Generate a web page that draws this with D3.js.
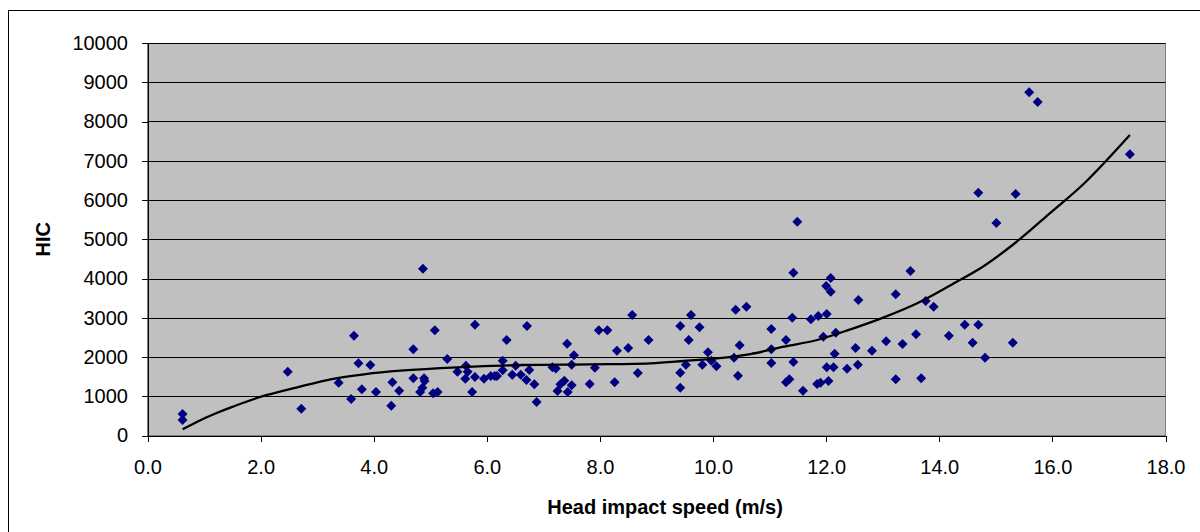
<!DOCTYPE html>
<html>
<head>
<meta charset="utf-8">
<script src="https://d3js.org/d3.v7.min.js"></script>
<style>
  body { margin: 0; background: #fff; }
  svg { display: block; }
  text { font-family: "Liberation Sans", Arial, sans-serif; }
</style>
</head>
<body>
<div id="chart"></div>
<script>
// head impact speed (m/s) vs HIC
var speed = [0.62, 0.62, 2.48, 2.72, 3.38, 3.65, 3.73, 3.94, 3.60, 3.79,
  4.04, 4.31, 4.33, 4.45, 4.70, 4.70, 5.08, 4.89, 4.90, 4.86,
  4.82, 5.05, 5.13, 5.30, 5.48, 4.87, 5.63, 5.66, 5.62, 5.79,
  5.79, 5.74, 5.95, 6.07, 6.14, 6.18, 6.28, 6.28, 6.35, 6.45,
  6.51, 6.60, 6.70, 6.71, 6.75, 6.84, 6.88, 7.16, 7.22, 7.25,
  7.30, 7.37, 7.42, 7.43, 7.50, 7.54, 7.50, 7.82, 7.91, 7.98,
  8.13, 8.26, 8.30, 8.50, 8.57, 8.67, 8.86, 9.42, 9.61, 9.57,
  9.76, 9.42, 9.42, 9.52, 9.81, 9.91, 9.97, 10.06, 10.40, 10.59,
  10.37, 10.47, 10.44, 11.03, 11.03, 11.03, 11.29, 11.42, 11.29, 11.35,
  11.40, 11.59, 11.73, 11.86, 12.01, 12.00, 12.08, 11.95, 12.17, 12.15,
  12.01, 12.13, 12.37, 12.56, 12.52, 12.57, 11.84, 11.90, 12.04, 12.81,
  13.06, 13.23, 13.23, 13.35, 13.59, 13.68, 11.49, 11.42, 12.08, 13.49,
  13.76, 13.90, 14.17, 14.45, 14.69, 14.59, 14.81, 15.30, 14.69, 15.35,
  15.01, 17.37, 15.59, 15.74]
var hic = [548, 395, 1626, 683, 1345, 2543, 1839, 1796, 930, 1177,
  1108, 760, 1355, 1141, 2196, 1457, 2683, 1457, 1389, 1218,
  1108, 1075, 1108, 1949, 1626, 4250, 1779, 1626, 1448, 2824,
  1490, 1108, 1448, 1516, 1516, 1516, 1906, 1660, 2433, 1550,
  1779, 1550, 1414, 2790, 1669, 1304, 853, 1737, 1710, 1134,
  1304, 1397, 2340, 1108, 1279, 2043, 1805, 1312, 1728, 2680,
  2680, 1355, 2161, 2229, 3070, 1592, 2433, 2790, 3070, 2433,
  2756, 1600, 1218, 1805, 1805, 2120, 1906, 1763, 3205, 3282,
  1982, 2298, 1524, 2713, 2196, 1847, 2433, 1873, 1355, 1432,
  3002, 1141, 2960, 3045, 3095, 3809, 3664, 2518, 2620, 2085,
  1737, 1737, 1703, 1805, 2229, 3452, 1312, 1346, 1389, 2161,
  2399, 3597, 1432, 2331, 2578, 1457, 5447, 4148, 4013, 4191,
  3427, 3282, 2543, 2824, 2824, 2365, 1982, 2365, 6186, 6153,
  5414, 7164, 8744, 8497]

// trend line (polynomial, as drawn by the spreadsheet)
var trendX = [0.62, 0.88, 1.20, 1.50, 2.01, 2.65, 3.24, 3.83, 4.47, 5.48,
  6.65, 7.83, 8.89, 9.48, 10.07, 10.66, 11.25, 11.84, 12.43, 13.02,
  13.61, 14.20, 14.79, 15.38, 15.97, 16.56, 17.37]
var trendY = [158, 352, 560, 730, 989, 1228, 1432, 1559, 1651, 1737,
  1796, 1814, 1839, 1898, 1967, 2076, 2262, 2433, 2705, 3011,
  3370, 3830, 4320, 4950, 5680, 6420, 7656]

var xTicks = [0, 2, 4, 6, 8, 10, 12, 14, 16, 18]
var yTicks = [0, 1000, 2000, 3000, 4000, 5000, 6000, 7000, 8000, 9000, 10000]

var xTitle = "Head impact speed (m/s)"
var yTitle = "HIC"

var W = 1200, H = 532
var plot = {left: 147.5, right: 1165.5, top: 43, bottom: 435.5}

var svg = d3.select("#chart").append("svg")
  .attr("width", W)
  .attr("height", H)

// outer chart border (runs off the right and bottom of the picture)
svg.append("rect")
  .attr("x", 8.5).attr("y", 10.5)
  .attr("width", W).attr("height", H)
  .attr("fill", "#fff")
  .attr("stroke", "#000")

var x = d3.scaleLinear().domain([0, 18]).range([plot.left, plot.right])
var y = d3.scaleLinear().domain([0, 10000]).range([plot.bottom, plot.top])

// plot area
svg.append("rect")
  .attr("x", plot.left).attr("y", plot.top)
  .attr("width", plot.right - plot.left)
  .attr("height", plot.bottom - plot.top)
  .attr("fill", "#c0c0c0")
  .attr("stroke", "#808080")
  .attr("shape-rendering", "crispEdges")

// gridlines
svg.append("g").selectAll("line")
  .data(yTicks.slice(1))
  .enter().append("line")
  .attr("x1", plot.left).attr("x2", plot.right)
  .attr("y1", function(d) { return Math.round(y(d)) + 0.5 })
  .attr("y2", function(d) { return Math.round(y(d)) + 0.5 })
  .attr("stroke", "#000")
  .attr("stroke-width", 1)

// axes
var xAxis = d3.axisBottom(x)
  .tickValues(xTicks)
  .tickFormat(d3.format(".1f"))
  .tickSize(6)
  .tickSizeOuter(0)
  .tickPadding(18)

var yAxis = d3.axisLeft(y)
  .tickValues(yTicks)
  .tickFormat(d3.format("d"))
  .tickSize(6)
  .tickSizeOuter(0)
  .tickPadding(14)

var gx = svg.append("g")
  .attr("transform", "translate(0," + Math.round(plot.bottom) + ")")
  .call(xAxis)
var gy = svg.append("g")
  .attr("transform", "translate(" + Math.round(plot.left) + ",0)")
  .call(yAxis)

for (var g of [gx, gy]) {
  g.selectAll("path, line").attr("stroke", "#000").attr("shape-rendering", "crispEdges")
  g.selectAll("text")
    .attr("fill", "#000")
    .attr("font-size", "20px")
    .attr("font-family", "'Liberation Sans', Arial, sans-serif")
}

// markers
var pts = speed.map(function(s, i) { return [s, hic[i]] })
var diamond = d3.symbol().type(d3.symbolSquare).size(50)

svg.append("g").selectAll("path")
  .data(pts)
  .enter().append("path")
  .attr("d", diamond)
  .attr("transform", function(d) {
    return "translate(" + x(d[0]) + "," + y(d[1]) + ") rotate(45)"
  })
  .attr("fill", "#000080")

// trend line
var trend = trendX.map(function(t, i) { return [t, trendY[i]] })
var line = d3.line()
  .x(function(d) { return x(d[0]) })
  .y(function(d) { return y(d[1]) })
  .curve(d3.curveCatmullRom)

svg.append("path")
  .datum(trend)
  .attr("d", line)
  .attr("fill", "none")
  .attr("stroke", "#000")
  .attr("stroke-width", 2.3)

// axis titles
svg.append("text")
  .attr("x", 665).attr("y", 514)
  .attr("text-anchor", "middle")
  .attr("font-size", "20px")
  .attr("font-weight", "bold")
  .text(xTitle)

svg.append("text")
  .attr("transform", "translate(50," + (plot.top + plot.bottom) / 2 + ") rotate(-90)")
  .attr("text-anchor", "middle")
  .attr("font-size", "20px")
  .attr("font-weight", "bold")
  .text(yTitle)
</script>
</body>
</html>
